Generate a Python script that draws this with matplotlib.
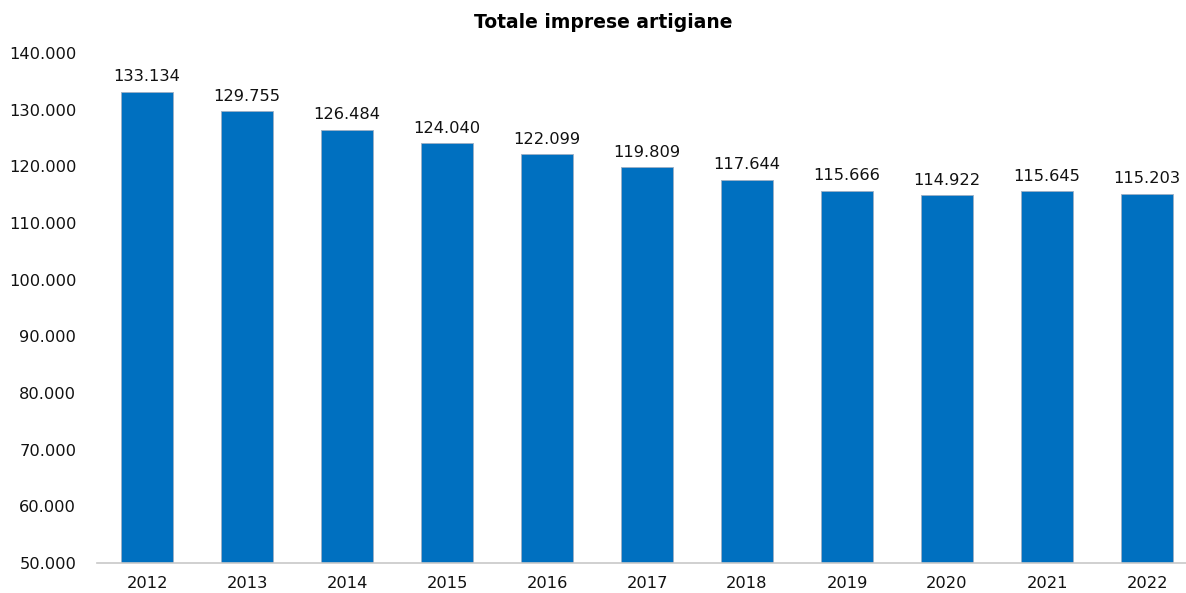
import numpy as np
import matplotlib
matplotlib.use("Agg")
from matplotlib import pyplot as plt
from matplotlib.ticker import FuncFormatter

years = ["2012", "2013", "2014", "2015", "2016", "2017",
         "2018", "2019", "2020", "2021", "2022"]
imprese = [133134, 129755, 126484, 124040, 122099, 119809,
           117644, 115666, 114922, 115645, 115203]
y_ticks = np.arange(50000, 140001, 10000)


def fmt_it(v, pos=None):
    return f"{int(round(v)):,}".replace(",", ".")


plt.rcParams['font.family'] = ['DejaVu Sans']

fig = plt.figure(figsize=(11.86, 5.93), dpi=100)
ax = fig.add_axes([97 / 1186, 30 / 593, 1089 / 1186, 510 / 593])

x = np.arange(len(years))
bars = ax.bar(x, imprese, width=0.52, color="#0070C0",
              edgecolor="#9dafc4", linewidth=0.6, zorder=2)

for xi, v in zip(x, imprese):
    ax.annotate(fmt_it(v), (xi, v), xytext=(0, 7.5), textcoords="offset points",
                ha="center", va="baseline", fontsize=11.7, color="#111111")

ax.set_xlim(-0.5, 10.39)
ax.set_ylim(50000, 140000)
ax.set_yticks(y_ticks)
ax.yaxis.set_major_formatter(FuncFormatter(fmt_it))
ax.set_xticks(x)
ax.set_xticklabels(years)
ax.tick_params(axis="both", length=0, labelsize=11.7, colors="#111111")
ax.tick_params(axis="y", pad=15)
ax.tick_params(axis="x", pad=9)

for side in ["top", "right", "left"]:
    ax.spines[side].set_visible(False)
ax.spines["bottom"].set_color("#c8c8c8")
ax.spines["bottom"].set_linewidth(1.2)

fig.text(603 / 1186, 1 - 22 / 593, "Totale imprese artigiane", ha="center", va="center",
         fontsize=13.5, fontweight="bold", color="#000000")

fig.savefig("out.png", dpi=100)
